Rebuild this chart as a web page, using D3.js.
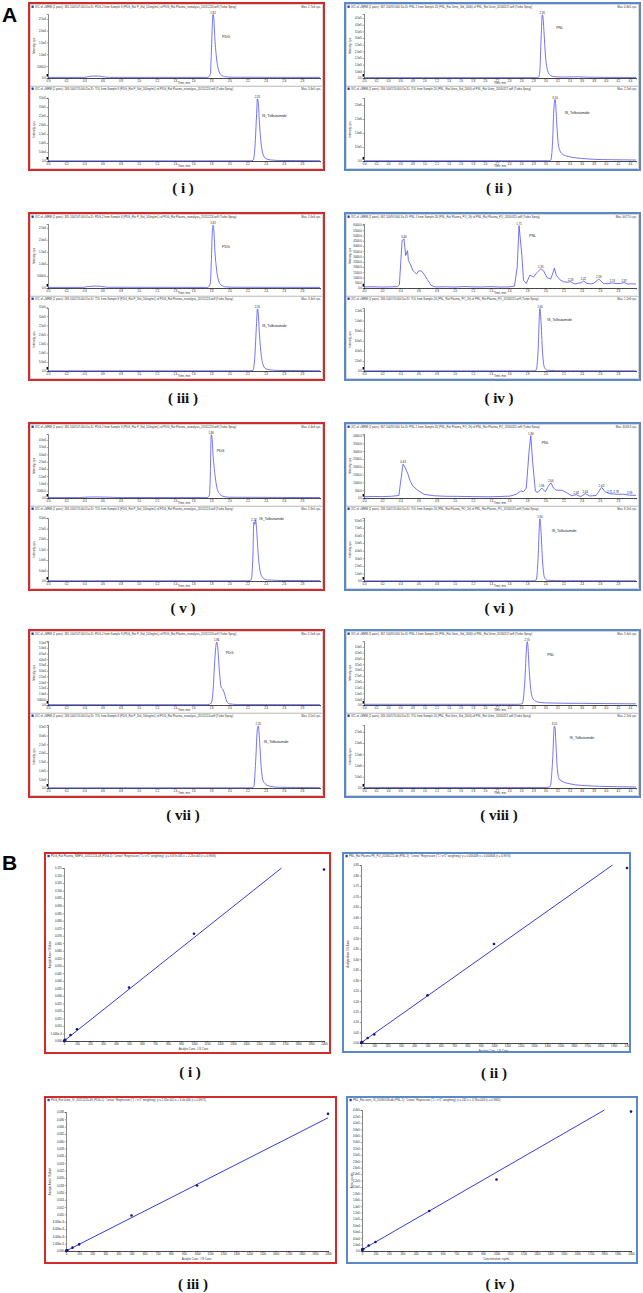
<!DOCTYPE html>
<html>
<head>
<meta charset="utf-8">
<script src="https://cdn.jsdelivr.net/npm/d3@7"></script>
<style>
  body { margin: 0; background: #fff; }
</style>
</head>
<body>
<div id="fig"></div>
<script>
// ---------- time axis ticks (min) ----------
const timeTicks30 = [0.0, 0.2, 0.4, 0.6, 0.8, 1.0, 1.2, 1.4, 1.6, 1.8, 2.0, 2.2, 2.4, 2.6, 2.8];
const timeTicks45 = [0.0, 0.2, 0.4, 0.6, 0.8, 1.0, 1.2, 1.4, 1.6, 1.8, 2.0, 2.2, 2.4, 2.6, 2.8, 3.0, 3.2, 3.4, 3.6, 3.8, 4.0, 4.2, 4.4];

// ---------- chromatogram traces: [time (min), intensity (cps)] ----------
const trI_pdg = [[0,250],[0.40,250],[0.45,600],[0.50,850],[0.56,800],[0.62,450],[0.68,260],[1.76,250],[1.79,1500],[1.80,9000],[1.81,20000],[1.82,26800],[1.83,24500],[1.84,17000],[1.86,8000],[1.88,3500],[1.91,1300],[1.96,500],[2.05,300],[3.0,250]];
const trI_is = [[0,800],[2.22,900],[2.26,3000],[2.28,60000],[2.30,250000],[2.31,345000],[2.32,320000],[2.33,230000],[2.35,100000],[2.37,40000],[2.40,14000],[2.45,6000],[2.55,3000],[3.0,1500]];

const trII_pnl = [[0,2500],[2.85,2500],[2.89,6000],[2.91,60000],[2.93,300000],[2.95,475000],[2.96,460000],[2.98,330000],[3.00,180000],[3.03,70000],[3.07,25000],[3.15,10000],[3.3,7000],[3.55,9000],[3.7,6000],[4.0,4500],[4.5,4000]];
const trII_is = [[0,8000],[3.05,8000],[3.09,30000],[3.12,700000],[3.14,1800000],[3.16,2200000],[3.17,2050000],[3.19,1300000],[3.21,700000],[3.24,380000],[3.28,250000],[3.35,180000],[3.45,130000],[3.6,90000],[3.8,60000],[4.1,45000],[4.5,35000]];

const trIII_pdg = [[0,250],[0.38,250],[0.45,650],[0.52,800],[0.58,700],[0.66,300],[1.76,250],[1.79,1800],[1.80,9500],[1.81,21000],[1.82,26000],[1.83,23500],[1.84,16000],[1.86,7500],[1.88,3200],[1.91,1200],[1.96,450],[2.05,300],[3.0,250]];
const trIII_is = [[0,800],[2.22,900],[2.26,3500],[2.28,70000],[2.30,260000],[2.31,340000],[2.32,310000],[2.33,220000],[2.35,95000],[2.37,38000],[2.40,13000],[2.45,6000],[2.55,3000],[3.0,1500]];

const trIV_pnl = [[0,100],[0.10,120],[0.20,90],[0.30,110],[0.37,130],[0.39,300],[0.42,4500],[0.44,4700],[0.46,3100],[0.48,3550],[0.49,2600],[0.51,2300],[0.54,1650],[0.58,1340],[0.60,1590],[0.63,1650],[0.66,1340],[0.70,800],[0.74,250],[0.79,100],[0.9,120],[1.0,90],[1.1,140],[1.2,110],[1.3,100],[1.4,130],[1.5,90],[1.6,110],[1.66,180],[1.69,2000],[1.71,5950],[1.74,3230],[1.76,730],[1.79,430],[1.83,1220],[1.87,1040],[1.90,1400],[1.95,1830],[1.98,1650],[2.02,980],[2.06,850],[2.10,1890],[2.12,1220],[2.16,790],[2.20,600],[2.24,550],[2.28,600],[2.32,400],[2.35,430],[2.40,520],[2.42,670],[2.46,430],[2.50,400],[2.53,430],[2.59,850],[2.64,430],[2.68,400],[2.74,490],[2.78,420],[2.83,430],[2.87,520],[2.91,380],[2.96,400],[3.0,370]];
const trIV_is = [[0,3000],[1.86,3000],[1.90,20000],[1.92,400000],[1.94,1240000],[1.95,1050000],[1.97,350000],[1.99,70000],[2.02,15000],[2.2,5000],[3.0,3500]];

const trV_pdg = [[0,300],[0.35,300],[0.45,650],[0.55,700],[0.65,600],[0.8,320],[1.76,300],[1.78,2000],[1.79,15000],[1.80,43500],[1.81,41000],[1.82,30000],[1.84,17000],[1.86,8000],[1.89,3000],[1.93,1200],[2.0,500],[3.0,300]];
const trV_is = [[0,1000],[2.20,1000],[2.24,5000],[2.26,120000],[2.27,280000],[2.28,270000],[2.29,292000],[2.30,250000],[2.32,120000],[2.34,45000],[2.37,15000],[2.42,5000],[2.6,2500],[3.0,1500]];

const trVI_pnl = [[0,80],[0.1,100],[0.2,90],[0.3,110],[0.385,160],[0.40,880],[0.43,2160],[0.45,2000],[0.48,1600],[0.51,1080],[0.54,760],[0.59,500],[0.66,240],[0.77,145],[0.9,110],[1.03,105],[1.2,90],[1.39,80],[1.5,95],[1.61,120],[1.68,240],[1.73,460],[1.76,400],[1.79,640],[1.82,2960],[1.84,4000],[1.86,2320],[1.89,440],[1.92,360],[1.96,640],[2.0,400],[2.03,720],[2.06,980],[2.09,640],[2.12,500],[2.18,500],[2.23,360],[2.29,145],[2.34,220],[2.39,80],[2.44,280],[2.49,130],[2.56,160],[2.62,680],[2.66,400],[2.71,280],[2.78,240],[2.86,240],[2.93,180],[3.0,170]];
const trVI_is = [[0,2000],[1.86,2000],[1.90,15000],[1.92,300000],[1.94,820000],[1.95,700000],[1.97,250000],[1.99,50000],[2.02,10000],[2.2,4000],[3.0,3000]];

const trVII_pdg = [[0,300],[1.76,300],[1.80,1500],[1.82,12000],[1.84,40000],[1.86,55000],[1.87,52000],[1.89,30000],[1.91,15500],[1.93,13500],[1.95,9000],[1.97,3500],[2.0,1000],[2.1,400],[3.0,300]];
const trVII_is = [[0,1000],[2.24,1000],[2.27,8000],[2.29,150000],[2.31,340000],[2.32,355000],[2.33,300000],[2.35,130000],[2.37,45000],[2.40,22000],[2.45,10000],[2.55,4000],[3.0,2000]];

const trVIII_pnl = [[0,6000],[2.55,6000],[2.62,12000],[2.66,200000],[2.69,500000],[2.70,545000],[2.71,520000],[2.73,330000],[2.76,130000],[2.80,50000],[2.88,25000],[3.0,18000],[3.3,15000],[3.6,14000],[4.0,12000],[4.5,10000]];
const trVIII_is = [[0,20000],[3.02,20000],[3.08,60000],[3.12,1200000],[3.15,2750000],[3.16,2700000],[3.18,1700000],[3.20,800000],[3.23,400000],[3.29,280000],[3.4,190000],[3.5,140000],[3.7,100000],[3.9,75000],[4.2,55000],[4.5,45000]];

// ---------- intensity axis ticks (cps) ----------
const yt_pdgLow = [0, 5000, 10000, 15000, 20000, 25000];
const yt_is35 = [0, 50000, 100000, 150000, 200000, 250000, 300000, 350000];
const yt_pnl45 = [0, 50000, 100000, 150000, 200000, 250000, 300000, 350000, 400000, 450000];
const yt_is20e6 = [0, 500000, 1000000, 1500000, 2000000];
const yt_pnl6000 = [0, 500, 1000, 1500, 2000, 2500, 3000, 3500, 4000, 4500, 5000, 5500, 6000];
const yt_is12e5 = [0, 200000, 400000, 600000, 800000, 1000000, 1200000];
const yt_pdg40 = [0, 5000, 10000, 15000, 20000, 25000, 30000, 35000, 40000];
const yt_is30 = [0, 50000, 100000, 150000, 200000, 250000, 300000];
const yt_pnl4000 = [0, 500, 1000, 1500, 2000, 2500, 3000, 3500, 4000];
const yt_is8e5 = [0, 100000, 200000, 300000, 400000, 500000, 600000, 700000, 800000];
const yt_pdg55 = [0, 5000, 10000, 15000, 20000, 25000, 30000, 35000, 40000, 45000, 50000, 55000];
const yt_pnl50 = [0, 50000, 100000, 150000, 200000, 250000, 300000, 350000, 400000, 450000, 500000];
const yt_is25e6 = [0, 500000, 1000000, 1500000, 2000000, 2500000];

// ---------- calibration curves ----------
const calConc = [1, 2, 5, 10, 50, 100, 500, 1000, 2000];
const concTicks = [0, 100, 200, 300, 400, 500, 600, 700, 800, 900, 1000, 1100, 1200, 1300, 1400, 1500, 1600, 1700, 1800, 1900, 2000];
const calRespI = [8e-5, 1.5e-4, 3.6e-4, 7.2e-4, 0.0040, 0.0078, 0.0356, 0.0713, 0.114];
const calRespII = [0.0011, 0.0015, 0.0029, 0.0051, 0.024, 0.041, 0.228, 0.473, 0.836];
const calRespIII = [2.1e-5, 4.0e-5, 9.5e-5, 1.9e-4, 9.2e-4, 1.8e-3, 9.7e-3, 0.0179, 0.0375];
const calRespIV = [4000, 4300, 5000, 6200, 17000, 28000, 125000, 223000, 435000];
const calFitI = [6.87e-5, 2.23e-5];     // slope, intercept
const calFitII = [4.49e-4, 6.06e-4];
const calFitIII = [1.82e-5, 3.4e-6];
const calFitIV = [242, 3760];
const calTicksI = [0, 0.005, 0.010, 0.015, 0.020, 0.025, 0.030, 0.035, 0.040, 0.045, 0.050, 0.055, 0.060, 0.065, 0.070, 0.075, 0.080, 0.085, 0.090, 0.095, 0.100, 0.105, 0.110, 0.115];
const calTicksII = [0, 0.05, 0.10, 0.15, 0.20, 0.25, 0.30, 0.35, 0.40, 0.45, 0.50, 0.55, 0.60, 0.65, 0.70, 0.75, 0.80, 0.85];
const calTicksIII = [0, 0.002, 0.004, 0.006, 0.008, 0.010, 0.012, 0.014, 0.016, 0.018, 0.020, 0.022, 0.024, 0.026, 0.028, 0.030, 0.032, 0.034, 0.036, 0.038];
const calTicksIV = [0, 20000, 40000, 60000, 80000, 100000, 120000, 140000, 160000, 180000, 200000, 220000, 240000, 260000, 280000, 300000, 320000, 340000, 360000, 380000, 400000, 420000, 440000];

// ---------- styles ----------
const W = 643, H = 1293;
const RED = "#d42a2a", BLUE = "#5b88c8";
const TRACE = "#4646f2", FIT = "#2323d8", DOT = "#14148a";
const TXT = "#333";

const svg = d3.select("#fig").append("svg")
    .attr("width", W).attr("height", H)
    .style("font-family", "Arial, 'Liberation Sans', sans-serif");

function fmtCps(v) {
    if (v === 0) return "0.0";
    if (v < 1e4) return v.toFixed(1);
    return v.toExponential(1).replace("+", "");
}

function styleAxis(g, fs) {
    g.attr("font-size", fs).attr("font-family", "Arial, 'Liberation Sans', sans-serif");
    g.select(".domain").attr("stroke", "#111").attr("stroke-width", 0.5);
    g.selectAll(".tick line").attr("stroke", "#111").attr("stroke-width", 0.4);
    g.selectAll(".tick text").attr("fill", "#222");
}

function header(g, x0, x1, y, text, right) {
    g.append("rect").attr("x", x0 + 2.5).attr("y", y - 2.4)
        .attr("width", 2.2).attr("height", 2.4).attr("fill", "#1d3cb8");
    g.append("text").attr("x", x0 + 6).attr("y", y).attr("font-size", 2.8)
        .attr("fill", TXT).text(text);
    if (right) {
        g.append("text").attr("x", x1 - 2).attr("y", y).attr("font-size", 2.8)
            .attr("text-anchor", "end").attr("fill", TXT).text(right);
    }
}

// one XIC sub-window inside a chromatogram frame
function chromSub(g, x0, boxTop, boxBot, plotTop, plotBot, xMax, xTicks, sp) {
    const left = x0 + 19, right = x0 + 291;
    g.append("rect").attr("x", x0 + 1.5).attr("y", boxTop)
        .attr("width", 292).attr("height", boxBot - boxTop)
        .attr("fill", "none").attr("stroke", "#9a9a9a").attr("stroke-width", 0.4);
    header(g, x0, x0 + 294, boxTop + 3.4, sp.header, sp.max);

    const x = d3.scaleLinear().domain([0, xMax]).range([left, right]);
    const y = d3.scaleLinear().domain([0, sp.yMax]).range([plotBot, plotTop]);

    // minor then major time ticks
    const gm = g.append("g").attr("transform", `translate(0,${plotBot})`)
        .call(d3.axisBottom(x).ticks(Math.round(xMax / 0.05)).tickFormat("").tickSize(0.8));
    styleAxis(gm, 2.8);
    const gx = g.append("g").attr("transform", `translate(0,${plotBot})`)
        .call(d3.axisBottom(x).tickValues(xTicks).tickFormat(d3.format(".1f"))
            .tickSize(1.3).tickPadding(0.6));
    styleAxis(gx, 2.8);
    const gy = g.append("g").attr("transform", `translate(${left},0)`)
        .call(d3.axisLeft(y).tickValues(sp.yTicks).tickFormat(fmtCps)
            .tickSize(1.3).tickPadding(0.8));
    styleAxis(gy, 2.8);

    g.append("text").attr("x", (left + right) / 2).attr("y", plotBot + 6.3)
        .attr("text-anchor", "middle").attr("font-size", 2.8).attr("fill", TXT)
        .text("Time, min");
    g.append("text")
        .attr("transform", `translate(${x0 + 6},${(plotTop + plotBot) / 2}) rotate(-90)`)
        .attr("text-anchor", "middle").attr("font-size", 2.8).attr("fill", TXT)
        .text("Intensity, cps");
    g.append("rect").attr("x", left - 1.4).attr("y", plotBot - 4)
        .attr("width", 1.4).attr("height", 2.6).attr("fill", "#000");

    const line = d3.line()
        .x(d => x(d[0]))
        .y(d => y(d[1]))
        .curve(sp.jagged ? d3.curveLinear : d3.curveMonotoneX);
    g.append("path").datum(sp.trace)
        .attr("fill", "none").attr("stroke", TRACE)
        .attr("stroke-width", 0.75).attr("d", line);

    // retention time labels
    sp.labels.forEach(t => {
        const p = sp.trace.find(d => Math.abs(d[0] - t) < 1e-6);
        g.append("text").attr("x", x(t)).attr("y", y(p[1]) - 0.8)
            .attr("text-anchor", "middle").attr("font-size", 2.8).attr("fill", "#222")
            .text(t.toFixed(2));
    });
    g.append("text").attr("x", x(sp.name[1])).attr("y", y(sp.name[2] * sp.yMax))
        .attr("font-size", 3.6).attr("fill", "#222").text(sp.name[0]);
}

function chromFrame(x0, y0, color, xMax, xTicks, top, bottom, label) {
    const g = svg.append("g");
    chromSub(g, x0, y0 + 1.5, y0 + 83, y0 + 11, y0 + 75, xMax, xTicks, top);
    chromSub(g, x0, y0 + 83.5, y0 + 165.5, y0 + 95, y0 + 158, xMax, xTicks, bottom);
    g.append("rect").attr("x", x0).attr("y", y0).attr("width", 295).attr("height", 167)
        .attr("fill", "none").attr("stroke", color).attr("stroke-width", 2);
    svg.append("text").attr("x", x0 + 154).attr("y", y0 + 190)
        .attr("text-anchor", "middle").attr("font-family", "'Liberation Serif', 'DejaVu Serif', serif")
        .attr("font-weight", "bold").attr("font-size", 15).attr("fill", "#111")
        .text(label);
}

function calPlot(fr, color, pl, yTicks, yFmt, resp, fit, head, xTitle, yTitle, label, lx, ly) {
    const g = svg.append("g");
    header(g, fr[0], fr[2], fr[1] + 4.2, head, null);
    const x = d3.scaleLinear().domain([0, 2000]).range([pl[0], pl[1]]);
    const yMax = yTicks[yTicks.length - 1];
    const y = d3.scaleLinear().domain([0, yMax]).range([pl[3], pl[2]]);

    const gm = g.append("g").attr("transform", `translate(0,${pl[3]})`)
        .call(d3.axisBottom(x).ticks(40).tickFormat("").tickSize(0.8));
    styleAxis(gm, 2.8);
    const gx = g.append("g").attr("transform", `translate(0,${pl[3]})`)
        .call(d3.axisBottom(x).tickValues(concTicks).tickFormat(d3.format("d"))
            .tickSize(1.3).tickPadding(0.8));
    styleAxis(gx, 2.8);
    const gy = g.append("g").attr("transform", `translate(${pl[0]},0)`)
        .call(d3.axisLeft(y).tickValues(yTicks).tickFormat(yFmt)
            .tickSize(1.3).tickPadding(0.8));
    styleAxis(gy, 2.8);

    g.append("text").attr("x", (pl[0] + pl[1]) / 2).attr("y", pl[3] + 9)
        .attr("text-anchor", "middle").attr("font-size", 2.8).attr("fill", TXT).text(xTitle);
    g.append("text")
        .attr("transform", `translate(${fr[0] + 6},${(pl[2] + pl[3]) / 2}) rotate(-90)`)
        .attr("text-anchor", "middle").attr("font-size", 2.8).attr("fill", TXT).text(yTitle);

    const xEnd = Math.min(2000, (yMax - fit[1]) / fit[0]);
    g.append("line")
        .attr("x1", x(0)).attr("y1", y(fit[1]))
        .attr("x2", x(xEnd)).attr("y2", y(fit[0] * xEnd + fit[1]))
        .attr("stroke", FIT).attr("stroke-width", 0.9);

    g.selectAll("circle.pt").data(calConc).join("circle")
        .attr("class", "pt")
        .attr("cx", (d, i) => x(d)).attr("cy", (d, i) => y(resp[i]))
        .attr("r", 1.3).attr("fill", DOT);

    g.append("rect").attr("x", fr[0]).attr("y", fr[1])
        .attr("width", fr[2] - fr[0]).attr("height", fr[3] - fr[1])
        .attr("fill", "none").attr("stroke", color).attr("stroke-width", 2);
    svg.append("text").attr("x", lx).attr("y", ly)
        .attr("text-anchor", "middle").attr("font-family", "'Liberation Serif', 'DejaVu Serif', serif")
        .attr("font-weight", "bold").attr("font-size", 15).attr("fill", "#111")
        .text(label);
}

// ---------- panel letters ----------
svg.append("text").attr("x", 2).attr("y", 22).attr("font-size", 21)
    .attr("font-weight", "bold").attr("fill", "#000").text("A");
svg.append("text").attr("x", 2).attr("y", 870).attr("font-size", 21)
    .attr("font-weight", "bold").attr("fill", "#000").text("B");

// ---------- A: chromatograms ----------
const hPDG = "XIC of +MRM (2 pairs): 381.100/107.000 Da ID: PDG-2 from Sample 8 (PDG_Rat P_Std_100ng/mL) of PDG_Rat Plasma_reanalysis_20151224.wiff (Turbo Spray)";
const hTOLr = "XIC of +MRM (2 pairs): 269.100/170.000 Da ID: TOL from Sample 8 (PDG_Rat P_Std_100ng/mL) of PDG_Rat Plasma_reanalysis_20151224.wiff (Turbo Spray)";
const hPNL = "XIC of +MRM (2 pairs): 367.100/93.000 Da ID: PNL-1 from Sample 20 (PNL_Rat Urine_Std_2000) of PNL_Rat Urine_20160117.wiff (Turbo Spray)";
const hTOLb = "XIC of +MRM (2 pairs): 269.100/170.000 Da ID: TOL from Sample 20 (PNL_Rat Urine_Std_2000) of PNL_Rat Urine_20160117.wiff (Turbo Spray)";
const hPNLp = "XIC of +MRM (2 pairs): 367.100/93.000 Da ID: PNL-1 from Sample 26 (PNL_Rat Plasma_PO_2h) of PNL_Rat Plasma_PO_20160115.wiff (Turbo Spray)";
const hTOLp = "XIC of +MRM (2 pairs): 269.100/170.000 Da ID: TOL from Sample 26 (PNL_Rat Plasma_PO_2h) of PNL_Rat Plasma_PO_20160115.wiff (Turbo Spray)";

chromFrame(29, 3, RED, 3.0, timeTicks30,
    { trace: trI_pdg, yMax: 27000, yTicks: yt_pdgLow, header: hPDG, max: "Max. 2.7e4 cps.", labels: [1.82], name: ["PDG", 1.92, 0.62] },
    { trace: trI_is, yMax: 350000, yTicks: yt_is35, header: hTOLr, max: "Max. 3.4e5 cps.", labels: [2.31], name: ["IS_Tolbutamide", 2.36, 0.70] },
    "( i )");
chromFrame(345, 3, BLUE, 4.5, timeTicks45,
    { trace: trII_pnl, yMax: 480000, yTicks: yt_pnl45, header: hPNL, max: "Max. 4.8e5 cps.", labels: [2.95], name: ["PNL", 3.18, 0.76] },
    { trace: trII_is, yMax: 2250000, yTicks: yt_is20e6, header: hTOLb, max: "Max. 2.2e6 cps.", labels: [3.16], name: ["IS_Tolbutamide", 3.32, 0.74] },
    "( ii )");
chromFrame(29, 213, RED, 3.0, timeTicks30,
    { trace: trIII_pdg, yMax: 26500, yTicks: yt_pdgLow, header: hPDG, max: "Max. 2.6e4 cps.", labels: [1.82], name: ["PDG", 1.92, 0.62] },
    { trace: trIII_is, yMax: 345000, yTicks: yt_is35, header: hTOLr, max: "Max. 3.4e5 cps.", labels: [2.31], name: ["IS_Tolbutamide", 2.36, 0.70] },
    "( iii )");
chromFrame(345, 213, BLUE, 3.0, timeTicks30,
    { trace: trIV_pnl, yMax: 6100, yTicks: yt_pnl6000, header: hPNLp, max: "Max. 6077.0 cps.", jagged: true,
      labels: [0.44, 1.71, 1.95, 2.28, 2.42, 2.59, 2.74, 2.87], name: ["PNL", 1.82, 0.80] },
    { trace: trIV_is, yMax: 1250000, yTicks: yt_is12e5, header: hTOLp, max: "Max. 1.2e6 cps.", labels: [1.94], name: ["IS_Tolbutamide", 2.02, 0.80] },
    "( iv )");
chromFrame(29, 423, RED, 3.0, timeTicks30,
    { trace: trV_pdg, yMax: 44000, yTicks: yt_pdg40, header: hPDG, max: "Max. 4.4e4 cps.", labels: [1.80], name: ["PDG", 1.86, 0.72] },
    { trace: trV_is, yMax: 300000, yTicks: yt_is30, header: hTOLr, max: "Max. 2.9e5 cps.", labels: [2.27], name: ["IS_Tolbutamide", 2.33, 0.97] },
    "( v )");
chromFrame(345, 423, BLUE, 3.0, timeTicks30,
    { trace: trVI_pnl, yMax: 4100, yTicks: yt_pnl4000, header: hPNLp, max: "Max. 4033.3 cps.", jagged: true,
      labels: [0.43, 1.84, 1.96, 2.06, 2.34, 2.44, 2.62, 2.71, 2.78, 2.93], name: ["PNL", 1.96, 0.84] },
    { trace: trVI_is, yMax: 830000, yTicks: yt_is8e5, header: hTOLp, max: "Max. 8.2e5 cps.", labels: [1.94], name: ["IS_Tolbutamide", 2.07, 0.78] },
    "( vi )");
chromFrame(29, 630, RED, 3.0, timeTicks30,
    { trace: trVII_pdg, yMax: 56000, yTicks: yt_pdg55, header: hPDG, max: "Max. 5.5e4 cps.", labels: [1.86], name: ["PDG", 1.96, 0.80] },
    { trace: trVII_is, yMax: 360000, yTicks: yt_is35, header: hTOLr, max: "Max. 3.5e5 cps.", labels: [2.32], name: ["IS_Tolbutamide", 2.38, 0.71] },
    "( vii )");
chromFrame(345, 630, BLUE, 4.5, timeTicks45,
    { trace: trVIII_pnl, yMax: 550000, yTicks: yt_pnl50, header: hPNL, max: "Max. 5.4e5 cps.", labels: [2.70], name: ["PNL", 3.03, 0.76] },
    { trace: trVIII_is, yMax: 2800000, yTicks: yt_is25e6, header: hTOLb, max: "Max. 2.7e6 cps.", labels: [3.15], name: ["IS_Tolbutamide", 3.40, 0.77] },
    "( viii )");

// ---------- B: calibration curves ----------
const fmtI = v => v === 0 ? "0.000" : (v < 0.0099 ? v.toExponential(3) : v.toFixed(3));
const fmtII = v => v.toFixed(2);
const fmtIV = v => v === 0 ? "0.0" : v.toExponential(1).replace("+", "");
const reg = "\"Linear\" Regression (\"1 / x^2\" weighting): ";

calPlot([45, 853, 330, 1053], RED, [64, 324, 868, 1041], calTicksI, fmtI, calRespI, calFitI,
    "PDG_Rat Plasma_NMPG_20151224-48 (PDG-1): " + reg + "y = 6.87e-005 x + 2.23e-005 (r = 0.9936)",
    "Analyte Conc. / IS Conc.", "Analyte Area / IS Area", "( i )", 190, 1077);
calPlot([343, 853, 630, 1052], BLUE, [361, 627, 865, 1043], calTicksII, fmtII, calRespII, calFitII,
    "PNL_Rat Plasma PK_PO_20160115-db (PNL-1): " + reg + "y = 0.000449 x + 0.000606 (r = 0.9970)",
    "Analyte Conc. / IS Conc.", "Analyte Area / IS Area", "( ii )", 494, 1078);
calPlot([45, 1097, 336, 1263], RED, [66, 328, 1112, 1251], calTicksIII, fmtI, calRespIII, calFitIII,
    "PDG_Rat Urine_IV_20151220-48 (PDG-1): " + reg + "y = 1.82e-005 x + 3.4e-006 (r = 0.9975)",
    "Analyte Conc. / IS Conc.", "Analyte Area / IS Area", "( iii )", 193, 1289);
calPlot([347, 1097, 637, 1263], BLUE, [362, 631, 1110, 1251], calTicksIV, fmtIV, calRespIV, calFitIV,
    "PNL_Rat urine_IV_20160108-db (PNL-1): " + reg + "y = 242 x + 3.76e+003 (r = 0.9962)",
    "Concentration, ng/mL", "Area, counts", "( iv )", 500, 1289);
</script>
</body>
</html>
